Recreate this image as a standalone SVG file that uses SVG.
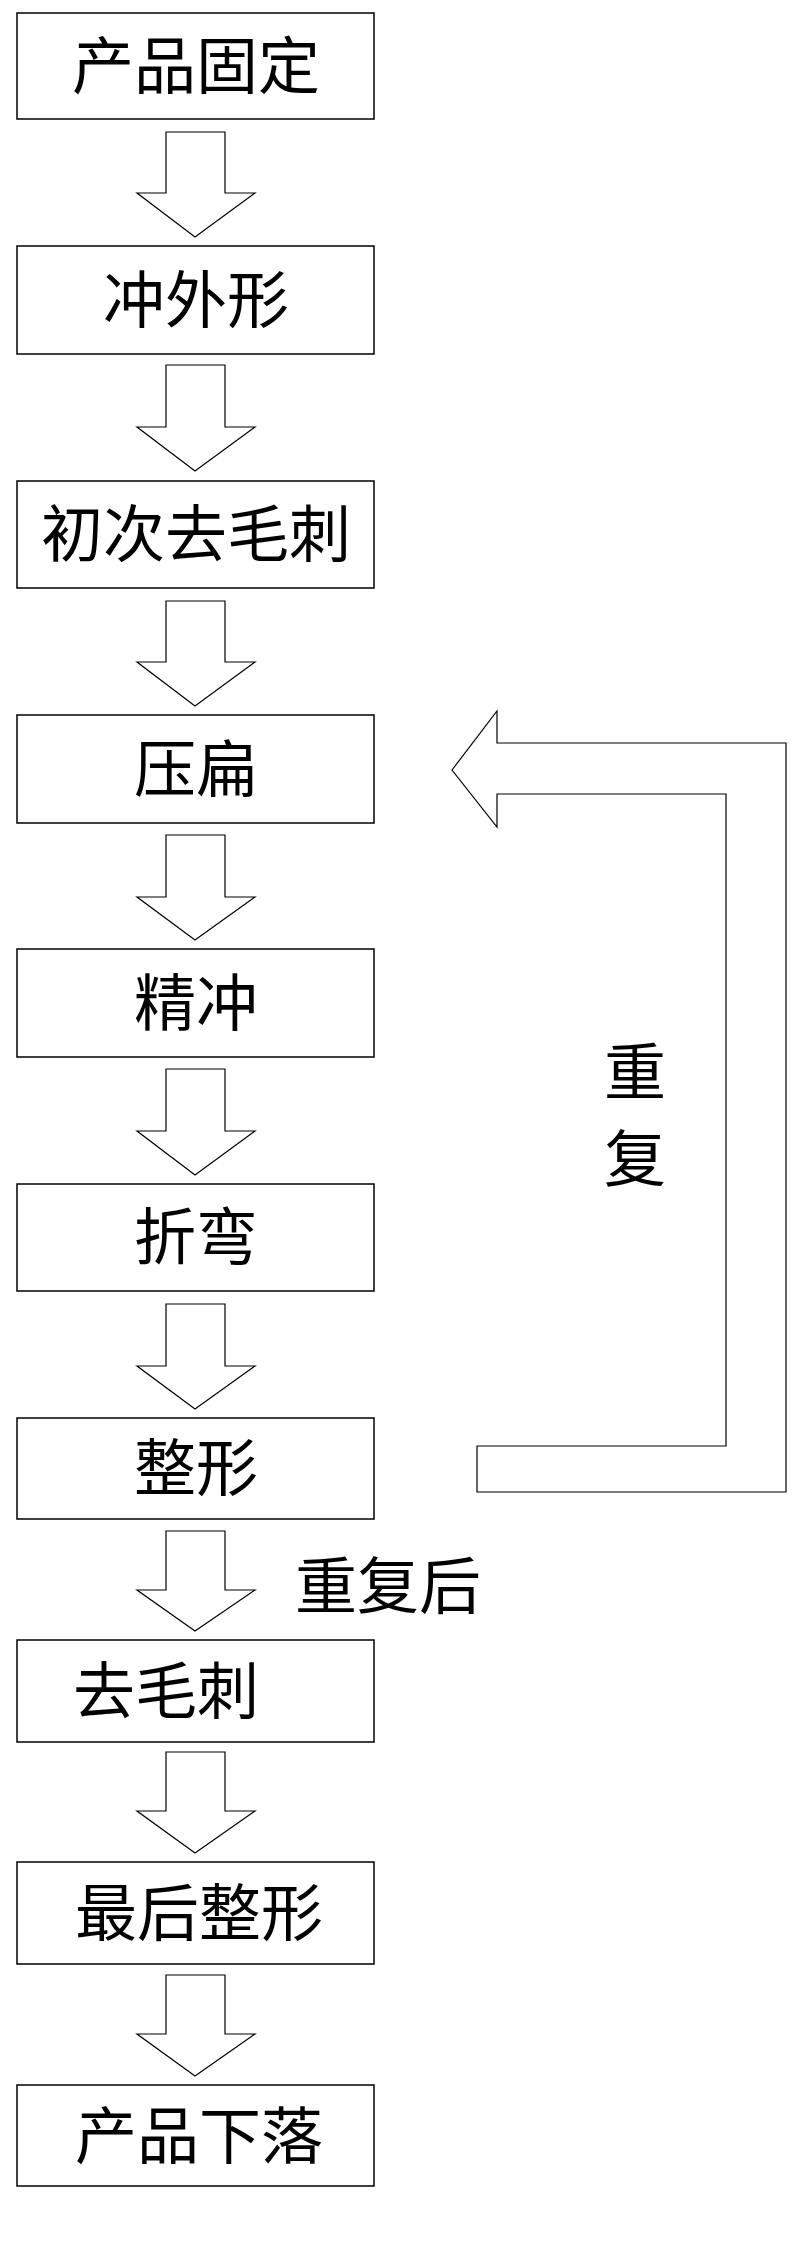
<svg xmlns="http://www.w3.org/2000/svg" width="797" height="2243" viewBox="0 0 797 2243">
<style>
.b{fill:#fff;stroke:#000;stroke-width:1.5}
.a{fill:#fff;stroke:#000;stroke-width:1.2}
text{font-family:"Noto Sans CJK SC",sans-serif;font-size:62px;fill:#000;text-anchor:middle}
</style>
<rect width="797" height="2243" fill="#fff"/>
<g id="n1"><rect class="b" x="17" y="13" width="357" height="106"/><text x="196" y="89">产品固定</text></g>
<g id="n2"><rect class="b" x="17" y="246" width="357" height="108"/><text x="196" y="323">冲外形</text></g>
<g id="n3"><rect class="b" x="17" y="481" width="357" height="107"/><text x="196" y="557">初次去毛刺</text></g>
<g id="n4"><rect class="b" x="17" y="715" width="357" height="108"/><text x="196" y="792">压扁</text></g>
<g id="n5"><rect class="b" x="17" y="949" width="357" height="108"/><text x="196" y="1026">精冲</text></g>
<g id="n6"><rect class="b" x="17" y="1184" width="357" height="107"/><text x="196" y="1260">折弯</text></g>
<g id="n7"><rect class="b" x="17" y="1418" width="357" height="101"/><text x="196" y="1491">整形</text></g>
<g id="n8"><rect class="b" x="17" y="1640" width="357" height="102"/><text x="166" y="1714">去毛刺</text></g>
<g id="n9"><rect class="b" x="17" y="1862" width="357" height="102"/><text x="199" y="1936">最后整形</text></g>
<g id="n10"><rect class="b" x="17" y="2085" width="357" height="101"/><text x="199" y="2159">产品下落</text></g>
<g id="connectors">
<path class="a" d="M166,132 H225 V193 H255 L195,237 L137,193 H166 Z"/>
<path class="a" d="M166,365 H225 V427 H255 L195,471 L137,427 H166 Z"/>
<path class="a" d="M166,601 H225 V662 H255 L195,706 L137,662 H166 Z"/>
<path class="a" d="M166,835 H225 V897 H255 L195,940 L137,897 H166 Z"/>
<path class="a" d="M166,1069 H225 V1131 H255 L195,1175 L137,1131 H166 Z"/>
<path class="a" d="M166,1304 H225 V1366 H255 L195,1409 L137,1366 H166 Z"/>
<path class="a" d="M166,1531 H225 V1590 H255 L195,1631 L137,1590 H166 Z"/>
<path class="a" d="M166,1752 H225 V1811 H255 L195,1853 L137,1811 H166 Z"/>
<path class="a" d="M166,1975 H225 V2034 H255 L195,2076 L137,2034 H166 Z"/>
<path class="a" d="M452,770 L497,711 V743 H786 V1492 H477 V1446 H726 V794 H497 V827 Z"/>
<text x="635" y="1095">重</text>
<text x="635" y="1182">复</text>
<text x="388" y="1609">重复后</text>
</g>
</svg>
